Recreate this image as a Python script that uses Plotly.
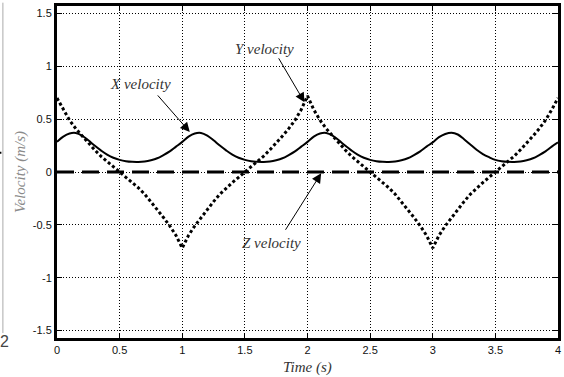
import plotly.graph_objects as go

# Sample times (s), every 0.05 s from 0 to 4
time_s = [round(i * 0.05, 2) for i in range(81)]

# X velocity (m/s): solid curve, period 1 s
x_velocity = [
    0.285, 0.335, 0.365, 0.37, 0.345, 0.30, 0.25, 0.205, 0.165, 0.135,
    0.115, 0.102, 0.096, 0.095, 0.10, 0.112, 0.13, 0.16, 0.195, 0.24,
    0.285, 0.335, 0.365, 0.37, 0.345, 0.30, 0.25, 0.205, 0.165, 0.135,
    0.115, 0.102, 0.096, 0.095, 0.10, 0.112, 0.13, 0.16, 0.195, 0.24,
    0.285, 0.335, 0.365, 0.37, 0.345, 0.30, 0.25, 0.205, 0.165, 0.135,
    0.115, 0.102, 0.096, 0.095, 0.10, 0.112, 0.13, 0.16, 0.195, 0.24,
    0.28, 0.33, 0.36, 0.372, 0.355, 0.31, 0.26, 0.21, 0.17, 0.14,
    0.115, 0.102, 0.096, 0.095, 0.10, 0.112, 0.13, 0.16, 0.195, 0.24,
    0.28,
]

# Y velocity (m/s): dotted curve, period 2 s with cusps at whole seconds
y_velocity = [
    0.70, 0.59, 0.49, 0.41, 0.34, 0.27, 0.21, 0.15, 0.10, 0.05,
    0.00, -0.05, -0.10, -0.15, -0.21, -0.28, -0.35, -0.43, -0.51, -0.60,
    -0.72, -0.60, -0.51, -0.43, -0.35, -0.28, -0.21, -0.15, -0.10, -0.05,
    0.00, 0.05, 0.10, 0.15, 0.21, 0.27, 0.34, 0.41, 0.49, 0.59,
    0.72, 0.59, 0.49, 0.41, 0.34, 0.27, 0.21, 0.15, 0.10, 0.05,
    0.00, -0.05, -0.10, -0.15, -0.21, -0.28, -0.35, -0.43, -0.51, -0.60,
    -0.72, -0.60, -0.51, -0.43, -0.35, -0.28, -0.21, -0.15, -0.10, -0.05,
    0.00, 0.05, 0.10, 0.15, 0.21, 0.27, 0.34, 0.41, 0.49, 0.59,
    0.70,
]

# Z velocity (m/s): stays at zero
z_time = [0, 4]
z_velocity = [0, 0]

x_ticks = [0, 0.5, 1, 1.5, 2, 2.5, 3, 3.5, 4]
x_tick_text = ["0", "0.5", "1", "1.5", "2", "2.5", "3", "3.5", "4"]
y_ticks = [-1.5, -1, -0.5, 0, 0.5, 1, 1.5]
y_tick_text = ["-1.5", "-1", "-0.5", "0", "0.5", "1", "1.5"]

fig = go.Figure()
fig.add_trace(go.Scatter(x=z_time, y=z_velocity, mode="lines",
                         line=dict(color="black", width=3, dash="17px,8px")))
fig.add_trace(go.Scatter(x=time_s, y=y_velocity, mode="lines",
                         line=dict(color="black", width=3, dash="3px,2.5px")))
fig.add_trace(go.Scatter(x=time_s, y=x_velocity, mode="lines",
                         line=dict(color="black", width=2, shape="spline", smoothing=1)))

label_font = dict(family="Liberation Serif", size=15, color="#333333", style="italic")
ann = []
# curve labels
ann.append(dict(x=0.67, y=0.83, xref="x", yref="y", text="X velocity",
                showarrow=False, font=label_font))
ann.append(dict(x=1.66, y=1.168, xref="x", yref="y", text="Y velocity",
                showarrow=False, font=label_font))
ann.append(dict(x=1.713, y=-0.674, xref="x", yref="y", text="Z velocity",
                showarrow=False, font=label_font))
# pointer arrows
for (hx, hy, tx, ty) in [(1.06, 0.379, 0.794, 0.739),
                         (1.976, 0.66, 1.763, 1.09),
                         (2.109, -0.013, 1.817, -0.561)]:
    ann.append(dict(x=hx, y=hy, ax=tx, ay=ty, xref="x", yref="y",
                    axref="x", ayref="y", text="", showarrow=True,
                    arrowhead=2, arrowsize=1.9, arrowwidth=1,
                    arrowcolor="black", standoff=0, startstandoff=0))
# axis titles
ann.append(dict(x=0.5, y=0, xref="paper", yref="paper", yanchor="middle",
                yshift=-29, text="Time (s)", showarrow=False,
                font=dict(family="Liberation Serif", size=15, color="#333333",
                          style="italic")))
ann.append(dict(x=0, y=0.5, xref="paper", yref="paper", xanchor="center",
                xshift=-37, textangle=-90, text="Velocity (m/s)", showarrow=False,
                font=dict(family="Liberation Serif", size=15, color="#8a8a8a",
                          style="italic")))
# page-margin leftovers at the left edge
ann.append(dict(x=-0.117, y=-0.01, xref="paper", yref="paper", xanchor="left",
                yanchor="middle", text="2", showarrow=False,
                font=dict(family="Liberation Sans", size=16, color="#444444")))

shapes = [
    dict(type="line", xref="paper", yref="paper", x0=-0.108, x1=-0.108,
         y0=1.01, y1=0.015, line=dict(color="#aaaaaa", width=1)),
    dict(type="line", xref="paper", yref="paper", x0=-0.115, x1=-0.111,
         y0=0.558, y1=0.558, line=dict(color="black", width=2)),
]

axis_common = dict(
    showline=True, linecolor="black", linewidth=3, mirror="ticks",
    ticks="inside", ticklen=5, tickwidth=1, tickcolor="black",
    showgrid=True, gridcolor="black", gridwidth=1, griddash="1px,2px",
    zeroline=False,
    tickfont=dict(family="Liberation Sans", size=11, color="#111111"),
)

fig.update_layout(
    width=564, height=377,
    margin=dict(l=57, r=5, t=3, b=39),
    paper_bgcolor="white", plot_bgcolor="white",
    showlegend=False,
    xaxis=dict(range=[0, 4], tickvals=x_ticks, ticktext=x_tick_text, **axis_common),
    yaxis=dict(range=[-1.571, 1.571], tickvals=y_ticks, ticktext=y_tick_text,
               **axis_common),
    annotations=ann,
    shapes=shapes,
)

fig.write_html("out.html")
